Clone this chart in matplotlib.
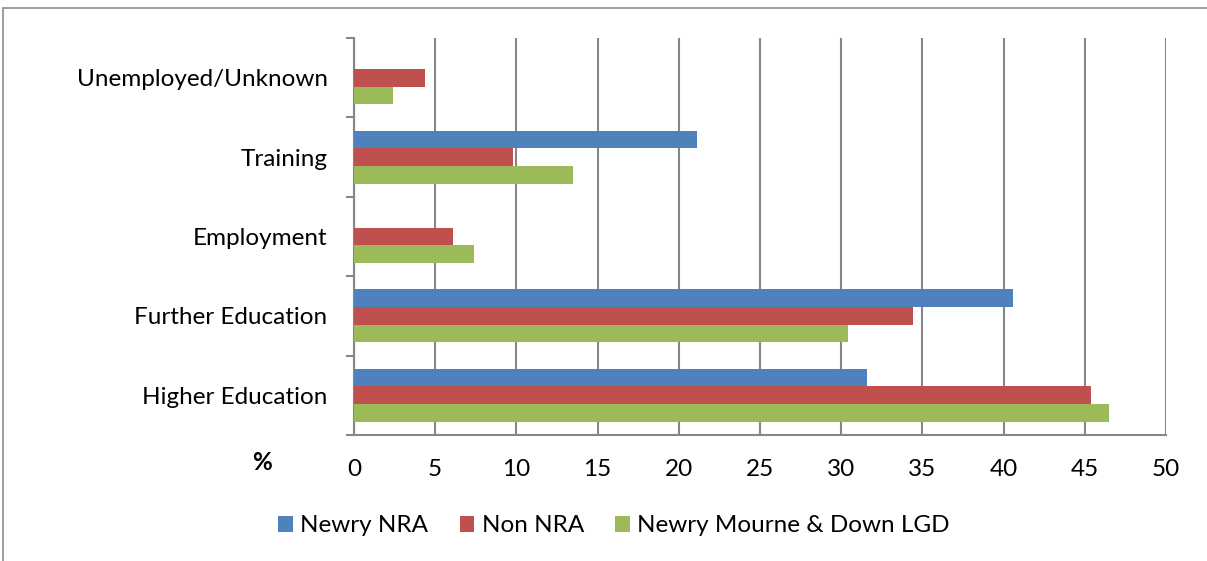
import matplotlib.pyplot as plt
import numpy as np
from matplotlib.patches import Rectangle

categories = ["Higher Education", "Further Education", "Employment", "Training", "Unemployed/Unknown"]
series_names = ["Newry NRA", "Non NRA", "Newry Mourne & Down LGD"]
newry_nra = [31.6, 40.6, 0.0, 21.1, 0.0]
non_nra = [45.4, 34.4, 6.1, 9.8, 4.4]
nmd_lgd = [46.5, 30.4, 7.4, 13.5, 2.4]
x_ticks = [0, 5, 10, 15, 20, 25, 30, 35, 40, 45, 50]

colors = ["#4f81bd", "#c0504d", "#9bbb59"]
plt.rcParams['font.family'] = ['Lato', 'DejaVu Sans']
fs = 17.5

fig = plt.figure(figsize=(12.07, 5.61), dpi=100)
ax = fig.add_axes([354 / 1207, 1 - 435 / 561, (1166 - 354) / 1207, (435 - 38) / 561])

# chart area border
fig.patches.append(Rectangle((3 / 1207, -0.01), 1.02, 1 - 8 / 561 + 0.01, transform=fig.transFigure,
                             fill=False, edgecolor="#8c8c8c", linewidth=1.2))

y = np.arange(len(categories))
h = 0.222
for i, (vals, name) in enumerate(zip([newry_nra, non_nra, nmd_lgd], series_names)):
    # first series sits on top within each group
    ax.barh(y + (1 - i) * h, vals, height=h, color=colors[i], label=name, zorder=3)

ax.set_xlim(0, 50)
ax.set_ylim(-0.5, len(categories) - 0.5)
ax.set_xticks(x_ticks)
ax.set_xticklabels([str(t) for t in x_ticks])
ax.set_yticks(y)
ax.set_yticklabels(categories)
ax.tick_params(axis="y", length=0, pad=19, labelsize=fs)
ax.tick_params(axis="x", length=0, pad=17, labelsize=fs)

# category boundary ticks on y axis and x ticks downward
ax.set_yticks(np.arange(-0.5, len(categories)), minor=True)
ax.tick_params(axis="y", which="minor", length=6, color="#868686", width=1.5, direction="out")
ax.set_xticks(x_ticks, minor=True)
ax.tick_params(axis="x", which="minor", length=6, color="#868686", width=1.5, direction="out")

ax.grid(axis="x", color="#868686", linewidth=1.5, zorder=0)
for s in ["top", "right"]:
    ax.spines[s].set_visible(False)
for s in ["left", "bottom"]:
    ax.spines[s].set_color("#868686")
    ax.spines[s].set_linewidth(1.5)

fig.text(262 / 1207, 1 - 463 / 561, "%", fontsize=fs, fontweight="bold", ha="center", va="center")

ax.legend(loc="center", bbox_to_anchor=(614 / 1207, 1 - 526 / 561), bbox_transform=fig.transFigure,
          ncol=3, frameon=False, fontsize=fs, handlelength=0.6, handleheight=0.6,
          handletextpad=0.3, columnspacing=1.3)

fig.savefig("out.png", dpi=100)
